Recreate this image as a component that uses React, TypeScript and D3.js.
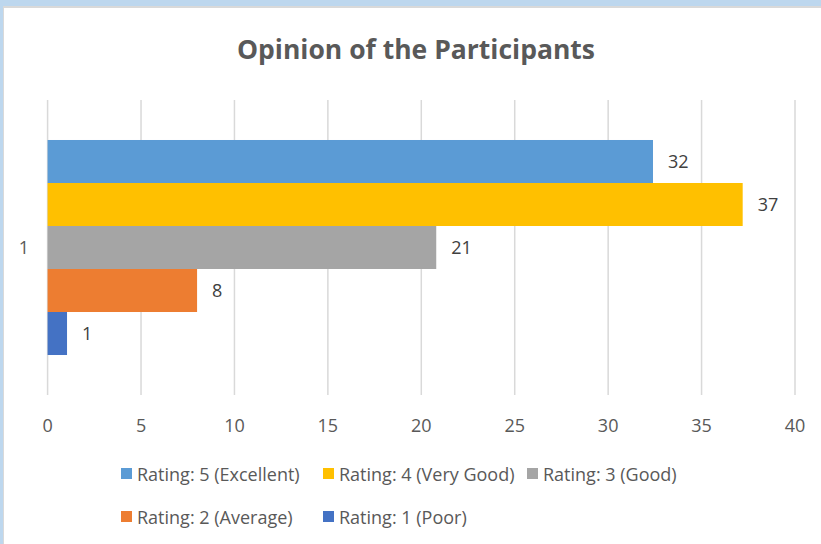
import React from "react";
import * as d3 from "d3";

const categories = ["1"];
const seriesNames = [
  "Rating: 5 (Excellent)",
  "Rating: 4 (Very Good)",
  "Rating: 3 (Good)",
  "Rating: 2 (Average)",
  "Rating: 1 (Poor)",
];
const seriesValues = [32.4, 37.2, 20.8, 8.0, 1.04];
const seriesColors = ["#5B9BD5", "#FFC000", "#A5A5A5", "#ED7D31", "#4472C4"];
const xTicks = [0, 5, 10, 15, 20, 25, 30, 35, 40];

const W = 821;
const H = 544;
const FONT = "'Open Sans', Lato, sans-serif";
const FS = 18;

export default function App() {
  const plot = { left: 47.6, right: 795, top: 100, bottom: 395 };
  const x = d3.scaleLinear().domain([0, 40]).range([plot.left, plot.right]);
  const yCat = d3
    .scaleBand<string>()
    .domain(categories)
    .range([plot.top, plot.bottom])
    .paddingInner(0)
    .paddingOuter(0.186);
  const ySer = d3
    .scaleBand<string>()
    .domain(seriesNames)
    .range([0, yCat.bandwidth()])
    .padding(0);
  const fmt = d3.format(".0f");

  const legendPos = [
    [121, 474],
    [323, 474],
    [527, 474],
    [121, 517],
    [323, 517],
  ];

  return (
    <div style={{ position: "absolute", left: 0, top: 0 }}>
      <svg width={W} height={H} style={{ display: "block" }}>
        <rect x={0} y={0} width={W} height={H} fill="#BDD7EE" />
        <rect x={3} y={6} width={W - 3} height={H - 6} fill="#D9D9D9" />
        <rect x={4} y={8} width={W - 4} height={H - 8} fill="#FFFFFF" />

        <text
          x={416}
          y={59}
          textAnchor="middle"
          fontFamily={FONT}
          fontWeight="bold"
          fontSize={26.5}
          fill="#595959"
        >
          Opinion of the Participants
        </text>

        {xTicks.map((t) => (
          <g key={t}>
            <line
              x1={x(t)}
              x2={x(t)}
              y1={plot.top}
              y2={plot.bottom}
              stroke="#D9D9D9"
              strokeWidth={1.5}
            />
            <text
              x={x(t)}
              y={431.5}
              textAnchor="middle"
              fontFamily={FONT}
              fontSize={FS}
              fill="#595959"
            >
              {t}
            </text>
          </g>
        ))}

        {categories.map((c) => (
          <text
            key={c}
            x={29}
            y={(yCat(c) ?? 0) + yCat.bandwidth() / 2 + 6.5}
            textAnchor="end"
            fontFamily={FONT}
            fontSize={FS}
            fill="#595959"
          >
            {c}
          </text>
        ))}

        {categories.map((c) =>
          seriesNames.map((s, i) => {
            const y0 = (yCat(c) ?? 0) + (ySer(s) ?? 0);
            const v = seriesValues[i];
            return (
              <g key={c + s}>
                <rect
                  x={x(0)}
                  y={y0}
                  width={x(v) - x(0)}
                  height={ySer.bandwidth()}
                  fill={seriesColors[i]}
                />
                <text
                  x={x(v) + 15}
                  y={y0 + ySer.bandwidth() / 2 + 6.5}
                  fontFamily={FONT}
                  fontSize={FS}
                  fill="#404040"
                >
                  {fmt(v)}
                </text>
              </g>
            );
          })
        )}

        {seriesNames.map((s, i) => (
          <g key={s} transform={`translate(${legendPos[i][0]},${legendPos[i][1]})`}>
            <rect x={0} y={-6} width={11} height={11} fill={seriesColors[i]} />
            <text
              x={16}
              y={6.5}
              fontFamily={FONT}
              fontSize={FS}
              fill="#595959"
            >
              {s}
            </text>
          </g>
        ))}
      </svg>
    </div>
  );
}
